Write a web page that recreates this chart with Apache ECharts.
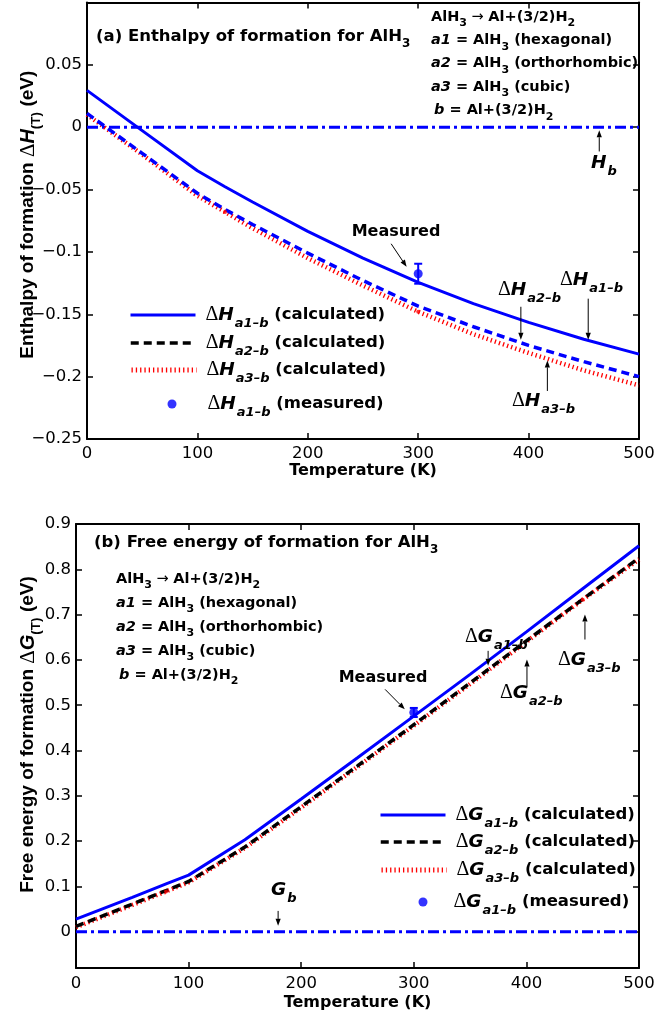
<!DOCTYPE html>
<html>
<head>
<meta charset="utf-8">
<script src="https://cdn.jsdelivr.net/npm/echarts@6/dist/echarts.min.js"></script>
<style>
  html, body { margin: 0; padding: 0; background: #fff; }
  #chart { width: 654px; height: 1021px; }
</style>
</head>
<body>
<div id="chart"></div>
<script>
// ---------- data ----------
// (a) enthalpy of formation, eV
const tempH = [0, 50, 100, 125, 150, 200, 250, 300, 350, 400, 450, 500];
const dH_a1 = [0.0295, -0.0028, -0.035, -0.0478, -0.060, -0.0835, -0.105, -0.1245, -0.1415, -0.1565, -0.170, -0.182];
const dH_a2 = [0.011, -0.021, -0.053, -0.066, -0.078, -0.101, -0.123, -0.1435, -0.160, -0.175, -0.188, -0.200];
const dH_a3 = [0.010, -0.022, -0.055, -0.068, -0.081, -0.105, -0.127, -0.148, -0.166, -0.181, -0.195, -0.207];
const dH_a3Dots = [125, 300];
const measT = [300];
const dH_meas = [-0.1175];
const dH_measErr = [0.008];

// (b) free energy of formation, eV
const tempG = [0, 50, 80, 100, 150, 200, 250, 300, 350, 400, 450, 500];
const dG_a1 = [0.028, 0.076, 0.1056, 0.125, 0.203, 0.293, 0.384, 0.476, 0.568, 0.662, 0.757, 0.852];
const dG_a2 = [0.012, 0.061, 0.091, 0.111, 0.187, 0.276, 0.366, 0.457, 0.549, 0.642, 0.734, 0.825];
const dG_a3 = [0.010, 0.059, 0.089, 0.109, 0.185, 0.274, 0.364, 0.455, 0.547, 0.640, 0.733, 0.822];
const dG_a3Dots = [80, 450];
const dG_meas = [0.484];
const dG_measErr = [0.01];

// reference level of b = Al + (3/2)H2
const refT = [0, 500];
const refB = [0, 0];

// ---------- helpers ----------
const F = "'DejaVu Sans', 'Liberation Sans', Arial, sans-serif";
const FY = "'Liberation Sans', Arial, sans-serif";
const FS = "'Liberation Serif', 'Times New Roman', serif";
const BLUE = '#0000ff', RED = '#ff0000', BLACK = '#000000';
const DASH = [8, 5], DOT = [1.3, 3], DASHDOT = [11, 4, 3, 4];

const pairs = (xs, ys) => xs.map((x, i) => [x, ys[i]]);
const pick = (xs, ys, at) => at.map(t => [t, ys[xs.indexOf(t)]]);
const minus = s => s.replace('-', '\u2212');

const names = {
  h1: 'dH a1-b calc', h2: 'dH a2-b calc', h3: 'dH a3-b calc', hm: 'dH a1-b meas',
  g1: 'dG a1-b calc', g2: 'dG a2-b calc', g3: 'dG a3-b calc', gm: 'dG a1-b meas'
};
const legendText = {
  [names.h1]: ['H', 'a1\u2013b', 'calculated'],
  [names.h2]: ['H', 'a2\u2013b', 'calculated'],
  [names.h3]: ['H', 'a3\u2013b', 'calculated'],
  [names.hm]: ['H', 'a1\u2013b', 'measured'],
  [names.g1]: ['G', 'a1\u2013b', 'calculated'],
  [names.g2]: ['G', 'a2\u2013b', 'calculated'],
  [names.g3]: ['G', 'a3\u2013b', 'calculated'],
  [names.gm]: ['G', 'a1\u2013b', 'measured']
};

// rich-text styles: big symbol, italic variable, subscript, plain
const richBase = {
  D: { fontFamily: FS, fontSize: 20, color: BLACK },
  V: { fontFamily: F, fontSize: 18.5, fontWeight: 'bold', fontStyle: 'italic', color: BLACK },
  vs: { fontFamily: F, fontSize: 13, fontWeight: 'bold', fontStyle: 'italic', color: BLACK, padding: [17, 0, 0, 1] },
  n: { fontFamily: F, fontSize: 16.5, fontWeight: 'bold', color: BLACK },
  t: { fontFamily: F, fontSize: 14.5, fontWeight: 'bold', color: BLACK },
  ts: { fontFamily: F, fontSize: 11, fontWeight: 'bold', color: BLACK, padding: [13, 0, 0, 0] },
  i: { fontFamily: F, fontSize: 14.5, fontWeight: 'bold', fontStyle: 'italic', color: BLACK },
  ar: { fontFamily: F, fontSize: 14.5, color: BLACK },
  T: { fontFamily: F, fontSize: 16.5, fontWeight: 'bold', color: BLACK },
  Ts: { fontFamily: F, fontSize: 12, fontWeight: 'bold', color: BLACK, padding: [14, 0, 0, 0] },
  M: { fontFamily: F, fontSize: 16, fontWeight: 'bold', color: BLACK }
};

function legendFmt(name) {
  const p = legendText[name];
  return '{D|\u0394}{V|' + p[0] + '}{vs|' + p[1] + '}{n| (' + p[2] + ')}';
}
function withLead(pad) {
  return Object.assign({}, richBase, { D: Object.assign({}, richBase.D, { padding: [0, 0, 0, pad] }) });
}

function lineLegend(name, left, top, lineStyle) {
  return {
    data: [{ name: name, lineStyle: lineStyle, itemStyle: { color: lineStyle.color, opacity: 0 } }],
    left: left, top: top, padding: 0, itemWidth: 65, itemHeight: 14,
    selectedMode: false, formatter: legendFmt,
    textStyle: { rich: withLead(5) }
  };
}
function dotLegend(name, left, top, lead) {
  return {
    data: [{ name: name, icon: 'circle', itemStyle: { color: BLUE } }],
    left: left, top: top, padding: 0, itemWidth: 9, itemHeight: 9,
    selectedMode: false, formatter: legendFmt,
    textStyle: { rich: withLead(lead) }
  };
}

const axisLineStyle = { color: BLACK, width: 2 };
const tickStyle = { inside: true, length: 6, lineStyle: { color: BLACK, width: 1.5 } };
const labelStyle = { color: BLACK, fontSize: 16.5, fontFamily: F };

function xAxes(grid, nameGap, margin) {
  return [
    {
      type: 'value', gridIndex: grid, position: 'bottom', min: 0, max: 500, interval: 100,
      axisLine: { onZero: false, lineStyle: axisLineStyle }, axisTick: tickStyle,
      axisLabel: Object.assign({ margin: margin }, labelStyle), splitLine: { show: false },
      name: 'Temperature (K)', nameLocation: 'middle', nameGap: nameGap,
      nameTextStyle: { color: BLACK, fontSize: 16, fontWeight: 'bold', fontFamily: F }
    },
    {
      type: 'value', gridIndex: grid, position: 'top', min: 0, max: 500, interval: 100,
      axisLine: { onZero: false, lineStyle: axisLineStyle }, axisTick: tickStyle,
      axisLabel: { show: false }, splitLine: { show: false }
    }
  ];
}

function yAxes(grid, range, sym, nameGap, namePad) {
  const left = Object.assign({
    type: 'value', gridIndex: grid, position: 'left',
    axisLine: { onZero: false, lineStyle: axisLineStyle }, axisTick: tickStyle,
    axisLabel: Object.assign({
      margin: 5,
      formatter: v => (v > range.max - 1e-9 || v < range.min + 1e-9 && range.hideMin) ? '' : minus(String(+v.toFixed(2)))
    }, labelStyle),
    splitLine: { show: false },
    name: '{n|' + (sym === 'H' ? 'Enthalpy of formation ' : 'Free energy of formation ') + '}{D|\u0394}{V|' + sym + '}{vs|(T)}{n| (eV)}',
    nameLocation: 'middle', nameGap: nameGap, nameMoveOverlap: false,
    nameTextStyle: {
      padding: namePad,
      rich: {
        n: { fontFamily: FY, fontSize: 19, fontWeight: 'bold', color: BLACK },
        D: { fontFamily: FS, fontSize: 21, color: BLACK },
        V: { fontFamily: FY, fontSize: 20, fontWeight: 'bold', fontStyle: 'italic', color: BLACK },
        vs: { fontFamily: FY, fontSize: 13.5, fontWeight: 'bold', color: BLACK, padding: [16, 0, 0, 0] }
      }
    }
  }, range.axis);
  const right = Object.assign({
    type: 'value', gridIndex: grid, position: 'right',
    axisLine: { onZero: false, lineStyle: axisLineStyle }, axisTick: tickStyle,
    axisLabel: { show: false }, splitLine: { show: false }
  }, range.axis);
  return [left, right];
}

const rangeH = { min: -0.25, max: 0.1, axis: { min: -0.25, max: 0.1, interval: 0.05 } };
const rangeG = { min: -0.08, max: 1e9, hideMin: true, axis: { min: -0.08, max: 0.9, splitNumber: 10 } };

function errorBar(xi, yi, xs, ys, es) {
  return {
    type: 'custom', xAxisIndex: xi, yAxisIndex: yi, z: 6,
    data: xs.map((x, i) => [x, ys[i] - es[i], ys[i] + es[i]]),
    encode: { x: 0, y: [1, 2] },
    renderItem: (params, api) => {
      const lo = api.coord([api.value(0), api.value(1)]);
      const hi = api.coord([api.value(0), api.value(2)]);
      const w = 4;
      const st = { stroke: BLUE, lineWidth: 2 };
      return {
        type: 'group', children: [
          { type: 'line', shape: { x1: lo[0], y1: lo[1], x2: hi[0], y2: hi[1] }, style: st },
          { type: 'line', shape: { x1: hi[0] - w, y1: hi[1], x2: hi[0] + w, y2: hi[1] }, style: st },
          { type: 'line', shape: { x1: lo[0] - w, y1: lo[1], x2: lo[0] + w, y2: lo[1] }, style: st }
        ]
      };
    }
  };
}

function panelSeries(xi, yi, xs, a1, a2, a3, dots, mT, mV, mE, n1, n2, n3, nm, a2Color) {
  const base = { type: 'line', xAxisIndex: xi, yAxisIndex: yi, symbol: 'none', showSymbol: false, smooth: false };
  return [
    Object.assign({}, base, { name: 'ref' + xi, data: pairs(refT, refB), z: 2,
      lineStyle: { color: BLUE, width: 3, type: DASHDOT } }),
    Object.assign({}, base, { name: n3, data: pairs(xs, a3), z: 3, color: RED,
      lineStyle: { color: RED, width: 4.5, type: DOT, cap: 'butt' } }),
    Object.assign({}, base, { name: n2, data: pairs(xs, a2), z: 4, color: a2Color,
      lineStyle: { color: a2Color, width: 3.5, type: DASH, cap: 'butt' } }),
    Object.assign({}, base, { name: n1, data: pairs(xs, a1), z: 5, color: BLUE,
      lineStyle: { color: BLUE, width: 3 } }),
    { type: 'scatter', xAxisIndex: xi, yAxisIndex: yi, data: pick(xs, a3, dots), symbolSize: 4,
      itemStyle: { color: RED }, z: 5 },
    { type: 'scatter', name: nm, xAxisIndex: xi, yAxisIndex: yi, data: pairs(mT, mV), symbolSize: 9,
      itemStyle: { color: BLUE }, z: 7 },
    errorBar(xi, yi, mT, mV, mE)
  ];
}

const chart = echarts.init(document.getElementById('chart'), null, { renderer: 'canvas' });

const option = {
  animation: false,
  backgroundColor: '#ffffff',
  grid: [
    { left: 87, right: 15, top: 2.4, height: 436.6, outerBoundsMode: 'none' },
    { left: 76, right: 15, top: 524, height: 444, outerBoundsMode: 'none' }
  ],
  xAxis: [].concat(xAxes(0, 23, 6), xAxes(1, 27, 7)),
  yAxis: [].concat(yAxes(0, rangeH, 'H', 44, [0, 0, 0, 12]), yAxes(1, rangeG, 'G', 33, [0, 0, 0, 23])),
  legend: [
    lineLegend(names.h1, 129, 305, { color: BLUE, width: 3, type: 'solid' }),
    lineLegend(names.h2, 129, 333, { color: BLACK, width: 3.5, type: DASH }),
    lineLegend(names.h3, 129, 360, { color: RED, width: 5, type: DOT }),
    dotLegend(names.hm, 167.5, 394, 26),
    lineLegend(names.g1, 379, 805, { color: BLUE, width: 3, type: 'solid' }),
    lineLegend(names.g2, 379, 832, { color: BLACK, width: 3.5, type: DASH }),
    lineLegend(names.g3, 379, 860, { color: RED, width: 5, type: DOT }),
    dotLegend(names.gm, 418.5, 892, 21)
  ],
  series: [].concat(
    panelSeries(0, 0, tempH, dH_a1, dH_a2, dH_a3, dH_a3Dots, measT, dH_meas, dH_measErr,
      names.h1, names.h2, names.h3, names.hm, BLUE),
    panelSeries(2, 2, tempG, dG_a1, dG_a2, dG_a3, dG_a3Dots, measT, dG_meas, dG_measErr,
      names.g1, names.g2, names.g3, names.gm, BLACK)
  )
};
chart.setOption(option);

// ---------- annotations ----------
// arrows are given in data units of their panel
const arrowsH = [
  [[464, -0.0195], [464, -0.0025]],
  [[275.5, -0.0935], [289.5, -0.112]],
  [[454, -0.1375], [454, -0.1705]],
  [[393, -0.144], [393, -0.1705]],
  [[417, -0.2115], [417, -0.187]]
];
const arrowsG = [
  [[179.5, 0.046], [179.5, 0.013]],
  [[274.5, 0.535], [292, 0.491]],
  [[366, 0.62], [366, 0.587]],
  [[400.5, 0.539], [400.5, 0.601]],
  [[452, 0.645], [452, 0.70]]
];

function arrow(xi, yi, from, to) {
  const a = chart.convertToPixel({ xAxisIndex: xi, yAxisIndex: yi }, from);
  const b = chart.convertToPixel({ xAxisIndex: xi, yAxisIndex: yi }, to);
  const ang = Math.atan2(b[1] - a[1], b[0] - a[0]);
  const c = Math.cos(ang), s = Math.sin(ang), L = 7, W = 2.6;
  const base = [b[0] - L * c, b[1] - L * s];
  return [
    { type: 'line', z: 20, shape: { x1: a[0], y1: a[1], x2: base[0], y2: base[1] }, style: { stroke: BLACK, lineWidth: 1 } },
    { type: 'polygon', z: 20, shape: { points: [b, [base[0] + W * s, base[1] - W * c], [base[0] - W * s, base[1] + W * c]] }, style: { fill: BLACK } }
  ];
}

function label(x, y, text, align) {
  return {
    type: 'text', x: x, y: y, z: 20,
    style: { text: text, rich: richBase, align: align || 'left', verticalAlign: 'middle' }
  };
}
const sub3 = '{ts|3}', sub2 = '{ts|2}';
function formula(x, y0, dy) {
  return [
    label(x, y0, '{t|AlH}' + sub3 + '{ar| \u2192 }{t|Al+(3/2)H}' + sub2),
    label(x, y0 + dy, '{i|a1}{t| = AlH}' + sub3 + '{t| (hexagonal)}'),
    label(x, y0 + 2 * dy, '{i|a2}{t| = AlH}' + sub3 + '{t| (orthorhombic)}'),
    label(x, y0 + 3 * dy, '{i|a3}{t| = AlH}' + sub3 + '{t| (cubic)}'),
    label(x + 3, y0 + 4 * dy, '{i|b}{t| = Al+(3/2)H}' + sub2)
  ];
}
const sym = (v, s) => '{D|\u0394}{V|' + v + '}{vs|' + s + '}';

let graphics = [];
arrowsH.forEach(a => { graphics = graphics.concat(arrow(0, 0, a[0], a[1])); });
arrowsG.forEach(a => { graphics = graphics.concat(arrow(2, 2, a[0], a[1])); });
graphics = graphics.concat(
  [label(96, 37, '{T|(a) Enthalpy of formation for AlH}{Ts|3}')],
  formula(431, 17, 23.3),
  [
    label(591, 163, '{V|H}{vs|b}'),
    label(396, 232, '{M|Measured}', 'center'),
    label(560, 280, sym('H', 'a1\u2013b')),
    label(498, 290, sym('H', 'a2\u2013b')),
    label(512, 401, sym('H', 'a3\u2013b')),
    label(94, 543, '{T|(b) Free energy of formation for AlH}{Ts|3}')
  ],
  formula(116, 579, 24),
  [
    label(271, 890, '{V|G}{vs|b}'),
    label(383, 678, '{M|Measured}', 'center'),
    label(465, 637, sym('G', 'a1\u2013b')),
    label(500, 693, sym('G', 'a2\u2013b')),
    label(558, 660, sym('G', 'a3\u2013b'))
  ]
);
chart.setOption({ graphic: graphics });
</script>
</body>
</html>
